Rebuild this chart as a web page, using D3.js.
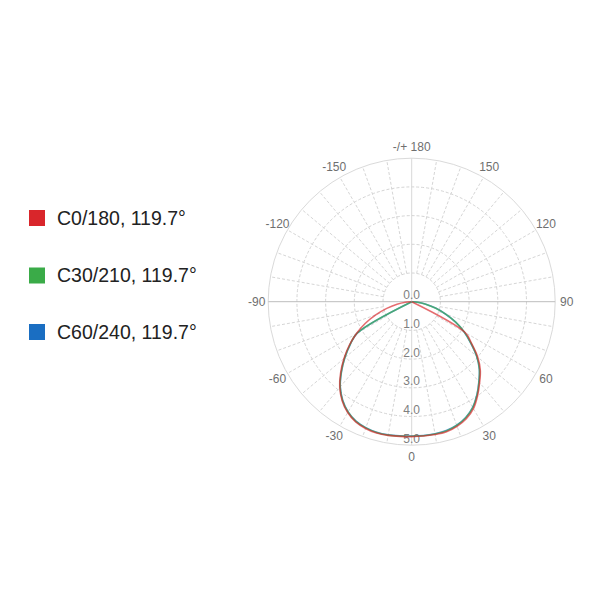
<!DOCTYPE html>
<html>
<head>
<meta charset="utf-8">
<script src="https://cdn.jsdelivr.net/npm/d3@7"></script>
<style>
  html, body { margin: 0; padding: 0; background: #fff; }
  svg { display: block; font-family: "Liberation Sans", Arial, sans-serif; }
</style>
</head>
<body>
<svg id="chart" width="600" height="600"></svg>
<script>
// ---------- data ----------
const seriesNames = ["C0/180, 119.7°", "C30/210, 119.7°", "C60/240, 119.7°"];
const seriesColors = ["#d9262b", "#3aab48", "#1a6ec2"];
const gamma = [0, 5, 10, 15, 20, 25, 30, 35, 40, 45, 50, 55, 60, 65, 70, 75, 80, 85, 90];

// left half (negative angles)
const redLeft   = [4.70, 4.71, 4.73, 4.74, 4.70, 4.62, 4.46, 4.22, 3.90, 3.50, 3.08, 2.66, 2.22, 1.78, 1.32, 0.90, 0.52, 0.22, 0.03];
const greenLeft = [4.69, 4.70, 4.72, 4.72, 4.68, 4.60, 4.44, 4.20, 3.88, 3.47, 3.05, 2.63, 2.20, 0, 0, 0, 0, 0, 0];
const blueLeft  = [4.68, 4.69, 4.71, 4.71, 4.67, 4.59, 4.43, 4.19, 3.87, 3.46, 3.04, 2.62, 2.19, 0, 0, 0, 0, 0, 0];
// right half (positive angles)
const redRight   = [4.70, 4.70, 4.70, 4.69, 4.62, 4.50, 4.30, 4.00, 3.68, 3.38, 3.00, 2.55, 2.15, 0, 0, 0, 0, 0, 0];
const greenRight = [4.69, 4.69, 4.68, 4.66, 4.59, 4.46, 4.26, 3.97, 3.65, 3.34, 2.96, 2.52, 2.12, 1.70, 1.26, 0.87, 0.49, 0.20, 0.02];
const blueRight  = [4.68, 4.68, 4.67, 4.65, 4.58, 4.45, 4.25, 3.96, 3.64, 3.33, 2.95, 2.51, 2.11, 1.69, 1.25, 0.86, 0.48, 0.20, 0.02];

const radialTicks = [0, 1, 2, 3, 4, 5];
const radialTickLabels = ["0.0", "1.0", "2.0", "3.0", "4.0", "5.0"];
const angleTicks = [0, 30, 60, 90, 120, 150, 180, -150, -120, -90, -60, -30];
const angleTickLabels = ["0", "30", "60", "90", "120", "150", "-/+ 180", "-150", "-120", "-90", "-60", "-30"];
const spokeAngles = d3.range(-170, 181, 10);

// ---------- layout ----------
const svg = d3.select("#chart");
const cx = 411.7, cy = 301.7, R = 143.5;
const r = d3.scaleLinear().domain([0, 5]).range([0, R]);
const toRad = deg => Math.PI - deg * Math.PI / 180; // 0 at bottom, positive to the right

const g = svg.append("g").attr("transform", `translate(${cx},${cy})`);

// rings
g.selectAll("circle.ring").data(radialTicks.filter(v => v > 0 && v < 5)).enter()
  .append("circle").attr("class", "ring")
  .attr("r", d => r(d)).attr("fill", "none")
  .attr("stroke", "#d4d4d4").attr("stroke-width", 1).attr("stroke-dasharray", "3,2");
g.append("circle").attr("r", r(5)).attr("fill", "none")
  .attr("stroke", "#dadada").attr("stroke-width", 1);

// spokes
g.selectAll("line.spoke").data(spokeAngles.filter(a => Math.abs(a) !== 90 && a !== 0 && a !== 180)).enter()
  .append("line").attr("class", "spoke")
  .attr("x1", d => r(1) * Math.sin(toRad(d))).attr("y1", d => -r(1) * Math.cos(toRad(d)))
  .attr("x2", d => r(5) * Math.sin(toRad(d))).attr("y2", d => -r(5) * Math.cos(toRad(d)))
  .attr("stroke", "#d6d6d6").attr("stroke-width", 1).attr("stroke-dasharray", "3,2");

// main axes
g.append("line").attr("x1", 0).attr("y1", -r(5)).attr("x2", 0).attr("y2", r(5))
  .attr("stroke", "#d8d8d8").attr("stroke-width", 1);
g.append("line").attr("x1", -r(5)).attr("y1", 0).attr("x2", r(5)).attr("y2", 0)
  .attr("stroke", "#bdbdbd").attr("stroke-width", 1);

// angle labels
const labR = 155;
g.selectAll("text.ang").data(angleTicks).enter()
  .append("text").attr("class", "ang")
  .attr("x", d => labR * Math.sin(toRad(d)))
  .attr("y", d => -labR * Math.cos(toRad(d)))
  .attr("text-anchor", "middle").attr("dominant-baseline", "central")
  .attr("font-size", 12).attr("fill", "#6f6f6f")
  .text((d, i) => angleTickLabels[i]);

// radial labels
g.selectAll("text.rad").data(radialTicks).enter()
  .append("text").attr("class", "rad")
  .attr("x", 0).attr("y", d => r(d) - 6.5)
  .attr("text-anchor", "middle").attr("dominant-baseline", "central")
  .attr("font-size", 12).attr("fill", "#808080")
  .text((d, i) => radialTickLabels[i]);

// curves
function buildPoints(left, right) {
  const pts = [];
  for (let i = gamma.length - 1; i >= 0; i--) pts.push({ a: -gamma[i], v: left[i] });
  for (let i = 1; i < gamma.length; i++) pts.push({ a: gamma[i], v: right[i] });
  return pts;
}
const seriesData = [
  buildPoints(redLeft, redRight),
  buildPoints(greenLeft, greenRight),
  buildPoints(blueLeft, blueRight)
];
const line = d3.lineRadial()
  .angle(d => toRad(d.a)).radius(d => r(d.v))
  .curve(d3.curveCatmullRom.alpha(0.5));

[2, 1, 0].forEach(i => {
  g.append("path").datum(seriesData[i])
    .attr("d", line).attr("fill", "none")
    .attr("stroke", seriesColors[i]).attr("stroke-width", 1.6)
    .attr("stroke-opacity", 0.68).attr("stroke-linejoin", "round");
});

// legend
const legendY = [218, 275.5, 332];
const lg = svg.append("g");
seriesNames.forEach((name, i) => {
  lg.append("rect").attr("x", 29).attr("y", legendY[i] - 8).attr("width", 16).attr("height", 16)
    .attr("fill", seriesColors[i]);
  lg.append("text").attr("x", 57).attr("y", legendY[i] + 6.5)
    .attr("font-size", 19.5).attr("fill", "#222").text(name);
});
</script>
</body>
</html>
